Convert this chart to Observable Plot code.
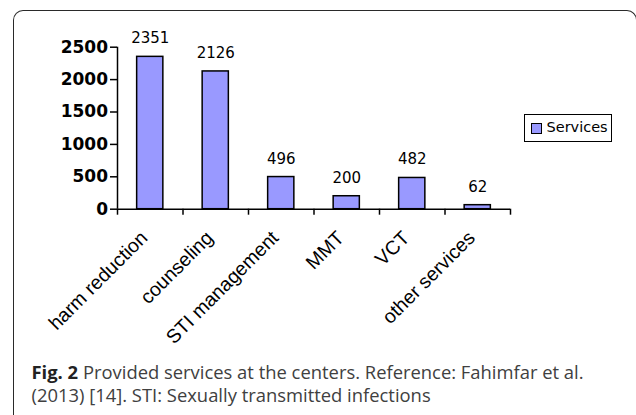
<!DOCTYPE html>
<html>
<head>
<meta charset="utf-8">
<script src="https://cdn.jsdelivr.net/npm/d3@7"></script>
<script src="https://cdn.jsdelivr.net/npm/@observablehq/plot@0.6"></script>
<style>
  html, body { margin: 0; padding: 0; background: #fff; width: 636px; height: 415px; overflow: hidden; }
  #frame { position: absolute; left: 13px; top: 10px; width: 624px; height: 430px;
           border: 1.5px solid #2a2a2a; border-bottom: none; border-radius: 10px 10px 0 0; box-sizing: border-box; }
  #chart { position: absolute; left: 0; top: 0; }
  #legend { position: absolute; left: 524px; top: 114px; width: 88px; height: 28px; box-sizing: border-box;
            border: 1.5px solid #000; font-family: "DejaVu Sans", sans-serif; font-size: 14.5px; color: #000; }
  #legend .sw { position: absolute; left: 6px; top: 8px; width: 11px; height: 11px; box-sizing: border-box;
                background: #9999ff; border: 1.3px solid #000; }
  #legend .lb { position: absolute; left: 21.5px; top: 3px; line-height: 18px; white-space: nowrap; }
  #caption { position: absolute; left: 31.5px; top: 360px; width: 600px; font-family: "Open Sans", sans-serif;
             font-size: 18.4px; line-height: 23px; color: #404040; white-space: nowrap; }
  #caption b { color: #222; }
</style>
</head>
<body>
<div id="frame"></div>
<div id="chart"></div>
<div id="legend"><div class="sw"></div><div class="lb"></div></div>
<div id="caption"></div>
<script>
const categories = ["harm reduction", "counseling", "STI management", "MMT", "VCT", "other services"];
const services = [2351, 2126, 496, 200, 482, 62];
const yTicks = [0, 500, 1000, 1500, 2000, 2500];
const seriesName = "Services";
const figLabel = "Fig. 2";
const captionLines = [" Provided services at the centers. Reference: Fahimfar et al.", "(2013) [14]. STI: Sexually transmitted infections"];

const rows = categories.map((c, i) => ({category: c, index: i, value: services[i]}));
const barFill = "#9999ff";
const barHalf = 0.2; // half bar width in category units

const plot = Plot.plot({
  width: 636,
  height: 355,
  marginLeft: 117,
  marginRight: 126,
  marginTop: 46.7,
  marginBottom: 146.3,
  style: {background: "transparent", overflow: "visible"},
  x: {type: "linear", domain: [0, categories.length], axis: null, label: null},
  y: {domain: [0, 2500], axis: null, label: null},
  marks: [
    Plot.rect(rows, {x1: d => d.index + 0.5 - barHalf, x2: d => d.index + 0.5 + barHalf, y1: 0, y2: "value",
      fill: barFill, stroke: "#000", strokeWidth: 1.5}),
    Plot.axisX({ticks: d3.range(categories.length + 1), tickSize: 6, tickFormat: () => "", label: null, stroke: "#000", strokeWidth: 1.5}),
    Plot.axisY({ticks: yTicks, tickSize: 7, tickPadding: 2.5, tickFormat: d => String(d), label: null, stroke: "#000", strokeWidth: 1.5,
      fontSize: 17, fontWeight: "bold", fontFamily: "DejaVu Sans", fill: "#000"}),
    Plot.ruleY([0], {stroke: "#000", strokeWidth: 1.5}),
    Plot.ruleX([0], {stroke: "#000", strokeWidth: 1.5}),
    Plot.text(rows, {x: d => d.index + 0.5, y: "value", text: d => String(d.value), dy: -13.5, lineAnchor: "bottom",
      fontSize: 15, fontFamily: "DejaVu Sans", fill: "#000"}),
    Plot.text(rows, {x: d => d.index + 0.5, y: 0, text: "category", rotate: -45, textAnchor: "end",
      dx: -6, dy: 25.5, fontSize: 19.5, fontFamily: "Liberation Sans", fill: "#000"})
  ]
});
document.getElementById("chart").appendChild(plot);
document.querySelector("#legend .lb").textContent = seriesName;
const cap = document.getElementById("caption");
const b = document.createElement("b");
b.textContent = figLabel;
cap.appendChild(b);
cap.appendChild(document.createTextNode(captionLines[0]));
cap.appendChild(document.createElement("br"));
cap.appendChild(document.createTextNode(captionLines[1]));
</script>
</body>
</html>
